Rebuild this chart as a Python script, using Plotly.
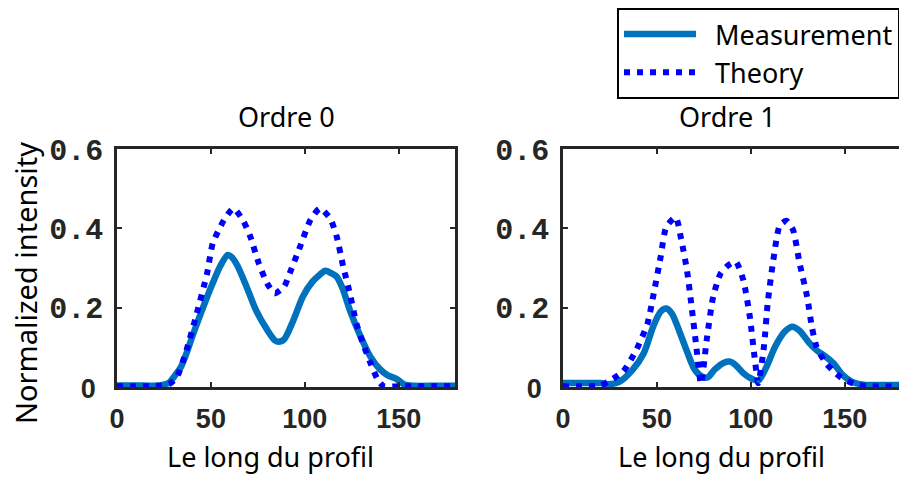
import plotly.graph_objects as go

# ---------------- data ----------------
# Ordre 0
x0_meas = [0, 10, 20, 25, 28, 31, 34, 37, 40, 43, 47, 51, 55, 59, 61, 64, 69, 74, 80, 84, 86, 89,
           94, 99, 104, 108, 111, 114, 117, 120, 124, 129, 135, 140, 144, 149, 153, 158, 170, 180]
y0_meas = [0.004, 0.004, 0.003, 0.006, 0.012, 0.03, 0.05, 0.085, 0.126, 0.165, 0.215, 0.262, 0.305, 0.333,
           0.328, 0.307, 0.253, 0.194, 0.144, 0.118, 0.114, 0.12, 0.169, 0.228, 0.265, 0.283, 0.293, 0.287,
           0.278, 0.25, 0.194, 0.135, 0.076, 0.045, 0.03, 0.02, 0.006, 0.003, 0.003, 0.003]
x0_theo = [0, 10, 20, 28, 32, 37, 42, 48, 51, 57, 62, 67, 71, 75.5, 80, 84, 89, 92, 97.5, 103, 108,
           113.5, 117, 120.5, 124, 127.5, 131, 135, 139, 142, 150, 160, 170, 180]
y0_theo = [0.002, 0.002, 0.002, 0.008, 0.026, 0.093, 0.177, 0.287, 0.362, 0.421, 0.45, 0.421, 0.379, 0.312,
           0.261, 0.236, 0.253, 0.287, 0.354, 0.421, 0.45, 0.425, 0.379, 0.303, 0.236, 0.16, 0.11, 0.06, 0.017,
           0.002, 0.002, 0.002, 0.002, 0.002]

# Ordre 1
x1_meas = [0, 10, 20, 24, 30, 37, 43, 48, 52, 55, 58, 62, 66, 70, 74, 77, 81, 86, 89, 92, 96, 100, 104,
           108, 113, 118, 122, 126, 131, 135, 140, 144, 149, 154, 160, 170, 180]
y1_meas = [0.01, 0.01, 0.01, 0.007, 0.013, 0.043, 0.085, 0.152, 0.19, 0.198, 0.185, 0.14, 0.09, 0.045,
           0.026, 0.024, 0.045, 0.062, 0.064, 0.055, 0.035, 0.022, 0.016, 0.047, 0.102, 0.139, 0.152, 0.142,
           0.112, 0.093, 0.076, 0.06, 0.03, 0.013, 0.006, 0.005, 0.005]
x1_theo = [0, 10, 20, 25, 32, 39, 45, 48, 52, 55, 60, 63, 66, 68.5, 71, 73.5, 76.5, 80, 84, 88, 92, 96,
           99.5, 102, 104, 107, 109, 112, 115.5, 119, 122.5, 126, 130, 132.5, 135, 140, 147.5, 155, 162, 170, 180]
y1_theo = [0.002, 0.002, 0.004, 0.016, 0.039, 0.093, 0.16, 0.228, 0.328, 0.404, 0.428, 0.371, 0.295, 0.202,
           0.102, 0.008, 0.118, 0.228, 0.287, 0.307, 0.316, 0.27, 0.177, 0.076, 0.01, 0.102, 0.211, 0.32,
           0.408, 0.419, 0.396, 0.312, 0.228, 0.152, 0.102, 0.06, 0.026, 0.008, 0.002, 0.002, 0.002]

x_tickvals = [0, 50, 100, 150]
y_tickvals = [0, 0.2, 0.4, 0.6]
y_ticktext = ['<span style="font-family:Liberation Sans;font-size:27px">0&nbsp;</span>', '0.2', '0.4', '0.6']
subplot_titles = ["Ordre 0", "Ordre 1"]
x_title = "Le long du profil"
y_title = "Normalized intensity"
series_names = ["\u00a0\u00a0Measurement", "\u00a0\u00a0Theory"]

MEAS_COLOR = "#0072BD"
THEO_COLOR = "#0000FF"
AXIS_COLOR = "#262626"
W, H = 899, 477
TEXT_FONT = "Noto Sans"

fig = go.Figure()

panels = [(x0_meas, y0_meas, x0_theo, y0_theo, "x", "y"),
          (x1_meas, y1_meas, x1_theo, y1_theo, "x2", "y2")]
for i, (xm, ym, xt, yt, xa, ya) in enumerate(panels):
    fig.add_trace(go.Scatter(x=xm, y=ym, mode="lines", name=series_names[0],
                             line=dict(color=MEAS_COLOR, width=6.5, shape="spline", smoothing=0.8),
                             xaxis=xa, yaxis=ya, showlegend=(i == 0), legendrank=1))
    fig.add_trace(go.Scatter(x=xt, y=yt, mode="lines", name=series_names[1],
                             line=dict(color=THEO_COLOR, width=6, dash="6px,7px", shape="spline", smoothing=0.6),
                             xaxis=xa, yaxis=ya, showlegend=(i == 0), legendrank=2))

ax_common = dict(showline=True, linecolor=AXIS_COLOR, linewidth=2.5, ticks="inside", ticklen=5,
                 tickcolor=AXIS_COLOR, tickwidth=2, showgrid=False, zeroline=False)
xfont = dict(family="Liberation Sans", size=27, color=AXIS_COLOR, weight="bold")
yfont = dict(family="Liberation Mono", size=30, color=AXIS_COLOR, weight="bold")

fig.update_layout(
    width=W, height=H,
    margin=dict(l=0, r=0, t=0, b=0, autoexpand=False),
    paper_bgcolor="white", plot_bgcolor="white",
    xaxis=dict(domain=[117 / W, 455 / W], range=[0, 180], tickvals=x_tickvals, tickfont=xfont,
               mirror="ticks", ticklabelstandoff=6, anchor="y", **ax_common),
    yaxis=dict(domain=[1 - 387 / H, 1 - 149 / H], range=[0, 0.6], tickvals=y_tickvals, ticktext=y_ticktext,
               tickfont=yfont, mirror="ticks", ticklabelstandoff=5, anchor="x", **ax_common),
    xaxis2=dict(domain=[563 / W, 1.0], range=[0, 180 * (W - 563) / 338], tickvals=x_tickvals, tickfont=xfont,
                mirror="ticks", ticklabelstandoff=6, anchor="y2", **ax_common),
    yaxis2=dict(domain=[1 - 387 / H, 1 - 149 / H], range=[0, 0.6], tickvals=y_tickvals, ticktext=y_ticktext,
                tickfont=yfont, mirror=False, ticklabelstandoff=5, anchor="x2", **ax_common),
    legend=dict(x=617 / W, y=1 - 8 / H, xanchor="left", yanchor="top", bordercolor="black", borderwidth=2,
                bgcolor="white", font=dict(family=TEXT_FONT, size=27, color="black"), itemwidth=72,
                tracegroupgap=0),
    showlegend=True,
)

tfont = dict(family=TEXT_FONT, size=27, color="black")
annots = [
    dict(text=subplot_titles[0], x=286 / W, y=1 - 117 / H, yanchor="middle"),
    dict(text=subplot_titles[1], x=727 / W, y=1 - 117 / H, yanchor="middle"),
    dict(text=x_title, x=270 / W, y=0, yanchor="bottom"),
    dict(text=x_title, x=721 / W, y=0, yanchor="bottom"),
    dict(text=y_title, x=25 / W, y=1 - 283 / H, yanchor="middle", textangle=-90,
         font=dict(family=TEXT_FONT, size=29, color="black")),
]
for a in annots:
    a.setdefault("font", tfont)
    fig.add_annotation(xref="paper", yref="paper", xanchor="center", showarrow=False, **a)

fig.write_html("out.html", config={"displayModeBar": False},
               post_script="document.body.style.margin='0';document.body.style.overflow='hidden';")
